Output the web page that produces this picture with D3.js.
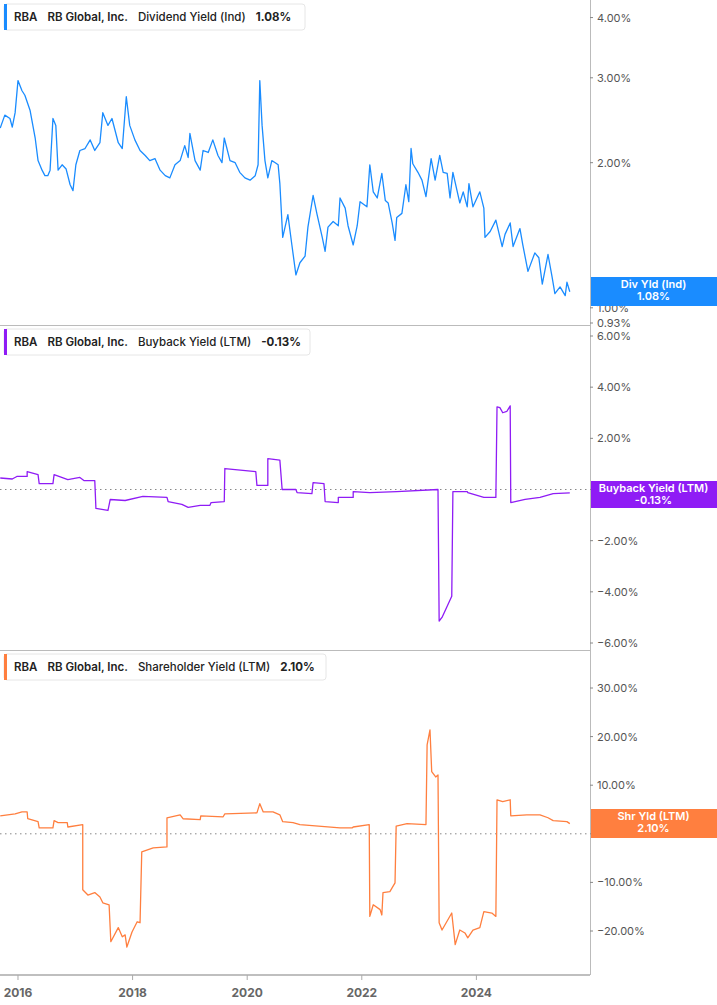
<!DOCTYPE html>
<html lang="en">
<head>
<meta charset="UTF-8">
<title>RBA yields</title>
<script src="https://d3js.org/d3.v7.min.js"></script>
<style>
body { margin: 0; background: #fff; font-family: Inter, "Noto Sans", sans-serif; }
svg text { user-select: none; }
</style>
</head>
<body>
<div id="chart"></div>
<script>
// decimal year, value in %
const divYield = [
  [2015.69,2.36],[2015.77,2.51],[2015.86,2.47],[2015.90,2.37],[2015.95,2.54],[2016.00,2.96],[2016.07,2.82],
  [2016.12,2.76],[2016.21,2.57],[2016.30,2.25],[2016.35,2.02],[2016.42,1.93],[2016.47,1.88],[2016.52,1.88],
  [2016.56,1.93],[2016.61,2.47],[2016.66,2.39],[2016.70,1.93],[2016.77,1.98],[2016.84,1.94],[2016.91,1.80],
  [2016.96,1.75],[2017.01,1.98],[2017.08,2.12],[2017.17,2.14],[2017.26,2.23],[2017.34,2.12],[2017.43,2.20],
  [2017.48,2.54],[2017.57,2.39],[2017.64,2.47],[2017.75,2.20],[2017.82,2.14],[2017.89,2.74],[2017.95,2.39],
  [2018.04,2.23],[2018.13,2.12],[2018.22,2.07],[2018.30,2.02],[2018.39,2.04],[2018.48,1.93],[2018.57,1.88],
  [2018.65,1.86],[2018.74,1.98],[2018.83,2.02],[2018.91,2.17],[2018.97,2.05],[2019.00,2.30],[2019.09,2.02],
  [2019.18,1.93],[2019.23,2.12],[2019.32,2.10],[2019.40,2.23],[2019.49,2.07],[2019.56,2.00],[2019.60,2.25],
  [2019.70,2.02],[2019.79,2.00],[2019.87,1.91],[2019.96,1.86],[2020.05,1.84],[2020.14,1.88],[2020.19,1.98],
  [2020.22,2.96],[2020.26,2.39],[2020.31,2.02],[2020.36,1.86],[2020.43,2.02],[2020.49,2.00],[2020.54,1.98],
  [2020.57,1.81],[2020.62,1.40],[2020.71,1.56],[2020.78,1.35],[2020.85,1.17],[2020.92,1.24],[2021.01,1.28],
  [2021.06,1.47],[2021.15,1.71],[2021.22,1.56],[2021.31,1.40],[2021.36,1.31],[2021.41,1.47],[2021.50,1.51],
  [2021.59,1.48],[2021.62,1.69],[2021.71,1.61],[2021.76,1.48],[2021.85,1.35],[2021.92,1.48],[2021.97,1.66],
  [2022.09,1.62],[2022.14,1.98],[2022.20,1.74],[2022.27,1.69],[2022.35,1.90],[2022.41,1.67],[2022.46,1.65],
  [2022.53,1.50],[2022.58,1.38],[2022.61,1.54],[2022.70,1.57],[2022.77,1.80],[2022.82,1.66],[2022.86,2.14],
  [2022.89,1.99],[2022.98,1.91],[2023.05,1.84],[2023.12,1.70],[2023.21,2.04],[2023.28,1.84],[2023.36,2.07],
  [2023.42,1.91],[2023.49,1.90],[2023.54,1.69],[2023.59,1.91],[2023.71,1.65],[2023.77,1.74],[2023.84,1.62],
  [2023.87,1.81],[2023.94,1.62],[2024.06,1.74],[2024.13,1.61],[2024.15,1.40],[2024.24,1.44],[2024.34,1.52],
  [2024.45,1.34],[2024.50,1.42],[2024.59,1.50],[2024.64,1.34],[2024.76,1.46],[2024.81,1.35],[2024.90,1.19],
  [2025.02,1.30],[2025.09,1.27],[2025.15,1.12],[2025.25,1.29],[2025.32,1.16],[2025.37,1.07],[2025.46,1.105],
  [2025.55,1.06],[2025.58,1.13],[2025.63,1.08]
];

const buybackYield = [
  [2015.69,0.45],[2015.90,0.41],[2015.98,0.51],[2016.16,0.51],[2016.16,0.70],[2016.35,0.58],[2016.37,0.23],
  [2016.61,0.23],[2016.63,0.58],[2016.87,0.39],[2017.08,0.47],[2017.15,0.35],[2017.34,0.35],[2017.36,-0.74],
  [2017.57,-0.82],[2017.61,-0.39],[2017.87,-0.43],[2018.18,-0.27],[2018.60,-0.31],[2018.62,-0.47],
  [2018.86,-0.58],[2018.97,-0.70],[2019.18,-0.62],[2019.35,-0.62],[2019.37,-0.51],[2019.60,-0.47],
  [2019.61,0.82],[2020.15,0.70],[2020.17,0.16],[2020.36,0.16],[2020.36,1.21],[2020.57,1.15],[2020.61,0.0],
  [2020.85,0.0],[2020.87,-0.12],[2021.13,-0.16],[2021.15,0.27],[2021.34,0.23],[2021.36,-0.47],[2021.59,-0.51],
  [2021.59,-0.31],[2021.85,-0.31],[2021.85,-0.08],[2022.14,-0.12],[2022.61,-0.08],[2023.33,0.0],
  [2023.35,-5.14],[2023.40,-5.0],[2023.57,-4.17],[2023.59,-0.08],[2023.84,-0.08],[2023.85,-0.12],
  [2024.13,-0.31],[2024.34,-0.31],[2024.36,3.23],[2024.41,3.2],[2024.46,3.0],[2024.53,3.05],[2024.59,3.27],
  [2024.60,-0.51],[2024.85,-0.39],[2025.11,-0.31],[2025.34,-0.16],[2025.63,-0.13]
];

const shrYield = [
  [2015.69,3.7],[2015.95,4.1],[2016.07,4.5],[2016.16,4.5],[2016.17,3.1],[2016.35,2.5],[2016.37,1.2],
  [2016.61,1.2],[2016.63,2.7],[2016.70,2.3],[2016.86,2.3],[2016.87,1.4],[2017.13,1.9],[2017.13,-11.5],
  [2017.22,-12.6],[2017.34,-12.1],[2017.43,-13.0],[2017.48,-14.2],[2017.59,-14.6],[2017.62,-22.2],
  [2017.75,-19.3],[2017.82,-21.2],[2017.87,-20.8],[2017.90,-23.3],[2017.99,-20.2],[2018.08,-18.1],
  [2018.13,-18.3],[2018.16,-3.7],[2018.36,-2.9],[2018.60,-2.7],[2018.60,3.3],[2018.83,3.9],[2018.88,3.1],
  [2019.18,2.9],[2019.19,3.7],[2019.58,3.5],[2019.61,4.1],[2020.17,4.3],[2020.22,6.2],[2020.28,4.5],
  [2020.45,4.5],[2020.57,3.9],[2020.62,2.5],[2020.80,2.3],[2020.92,1.9],[2021.62,1.2],[2021.83,1.2],
  [2021.85,1.4],[2022.13,1.9],[2022.14,-17.0],[2022.20,-14.6],[2022.32,-15.6],[2022.35,-16.7],[2022.37,-12.1],
  [2022.49,-11.9],[2022.58,-10.1],[2022.60,1.6],[2022.79,2.1],[2023.12,1.9],[2023.14,18.3],[2023.19,21.4],
  [2023.22,12.8],[2023.29,11.7],[2023.33,12.1],[2023.35,-18.3],[2023.40,-19.8],[2023.57,-16.3],
  [2023.63,-22.8],[2023.71,-19.8],[2023.80,-20.4],[2023.85,-21.4],[2023.94,-19.8],[2024.06,-19.3],
  [2024.13,-16.0],[2024.27,-16.3],[2024.34,-17.0],[2024.36,7.0],[2024.46,6.6],[2024.59,7.0],[2024.60,3.7],
  [2024.88,3.9],[2025.11,3.9],[2025.25,3.3],[2025.34,2.7],[2025.58,2.5],[2025.63,2.10]
];

const yearTicks = [2016, 2018, 2020, 2022, 2024];
const divTicks = [4, 3, 2, 1, 0.93];
const buyTicks = [6, 4, 2, 0, -2, -4, -6];
const shrTicks = [30, 20, 10, 0, -10, -20];

const W = 717, H = 1005, plotR = 590;
const svg = d3.select('#chart').append('svg').attr('width', W).attr('height', H);

const x = d3.scaleLinear().domain([2015.686, 2015.686 + plotR / 57.3]).range([0, plotR]);

const panels = [
  { data: divYield, y: d3.scaleLog().domain([0.93, 4.35]).range([323, 0]), ticks: divTicks,
    top: 0, bottom: 325, color: '#1a8cff', zero: false,
    legend: 'Dividend Yield (Ind)', last: '1.08%', legendW: 301,
    box: ['Div Yld (Ind)', '1.08%'], boxY: 277, boxH: 29 },
  { data: buybackYield, y: d3.scaleLinear().domain([-6, 6]).range([643, 336]), ticks: buyTicks,
    top: 325, bottom: 650, color: '#8f1cf5', zero: true,
    legend: 'Buyback Yield (LTM)', last: '-0.13%', legendW: 306,
    box: ['Buyback Yield (LTM)', '-0.13%'], boxY: 481, boxH: 27 },
  { data: shrYield, y: d3.scaleLinear().domain([-20, 30]).range([931, 688]), ticks: shrTicks,
    top: 650, bottom: 975, color: '#ff7f3f', zero: true,
    legend: 'Shareholder Yield (LTM)', last: '2.10%', legendW: 322,
    box: ['Shr Yld (LTM)', '2.10%'], boxY: 809, boxH: 29 }
];

// right axis line
svg.append('line').attr('x1', plotR + 0.5).attr('x2', plotR + 0.5).attr('y1', 0).attr('y2', 975)
  .attr('stroke', '#bbb');

panels.forEach(function(p, i) {
  const g = svg.append('g');
  if (i > 0) {
    g.append('line').attr('x1', 0).attr('x2', plotR).attr('y1', p.top + 0.5).attr('y2', p.top + 0.5)
      .attr('stroke', '#bbb');
  }
  // y ticks (the 0% label sits under the value box, as in the original)
  p.ticks.forEach(function(t) {
    const yy = p.y(t);
    g.append('line').attr('x1', plotR).attr('x2', plotR + 3).attr('y1', yy).attr('y2', yy).attr('stroke', '#888');
    if (t === 0) return;
    g.append('text').attr('x', plotR + 7).attr('y', yy + 4).attr('font-size', 11).attr('fill', '#555')
      .text(d3.format('.2f')(t) + '%');
  });
  if (p.zero) {
    g.append('line').attr('x1', 0).attr('x2', plotR).attr('y1', p.y(0)).attr('y2', p.y(0))
      .attr('stroke', '#888').attr('stroke-dasharray', '1.5,3.5');
  }
  const line = d3.line().x(d => x(d[0])).y(d => p.y(d[1]));
  g.append('path').datum(p.data).attr('d', line).attr('fill', 'none')
    .attr('stroke', p.color).attr('stroke-width', 1.3).attr('stroke-linejoin', 'round');

  // legend
  const lg = g.append('g').attr('transform', 'translate(4,' + (p.top + 4) + ')');
  lg.append('rect').attr('width', p.legendW).attr('height', 26).attr('rx', 3)
    .attr('fill', '#fff').attr('stroke', '#e6e6e6');
  lg.append('rect').attr('width', 3).attr('height', 26).attr('fill', p.color);
  const tx = lg.append('text').attr('x', 10).attr('y', 17).attr('font-size', 11.5)
    .attr('font-weight', 600).attr('fill', '#222');
  tx.append('tspan').text('RBA');
  tx.append('tspan').attr('dx', 10).text('RB Global, Inc.');
  tx.append('tspan').attr('dx', 10).attr('font-weight', 500).text(p.legend);
  tx.append('tspan').attr('dx', 10).attr('font-weight', 700).text(p.last);

  // value box on right axis
  g.append('rect').attr('x', plotR + 1).attr('y', p.boxY).attr('width', W - plotR - 1).attr('height', p.boxH)
    .attr('fill', p.color);
  p.box.forEach(function(s, k) {
    g.append('text').attr('x', (plotR + W) / 2).attr('y', p.boxY + 11 + k * 12)
      .attr('text-anchor', 'middle').attr('font-size', 11).attr('font-weight', 600)
      .attr('fill', '#fff').text(s);
  });
});

// x axis
const xa = svg.append('g');
xa.append('line').attr('x1', 0).attr('x2', plotR).attr('y1', 975).attr('y2', 975).attr('stroke', '#aaa').attr('stroke-width', 1.5);
yearTicks.forEach(function(yr) {
  xa.append('line').attr('x1', x(yr)).attr('x2', x(yr)).attr('y1', 975).attr('y2', 980).attr('stroke', '#aaa');
  xa.append('text').attr('x', x(yr)).attr('y', 997).attr('text-anchor', 'middle')
    .attr('font-size', 12).attr('font-weight', 700).attr('fill', '#666').text(yr);
});
</script>
</body>
</html>
